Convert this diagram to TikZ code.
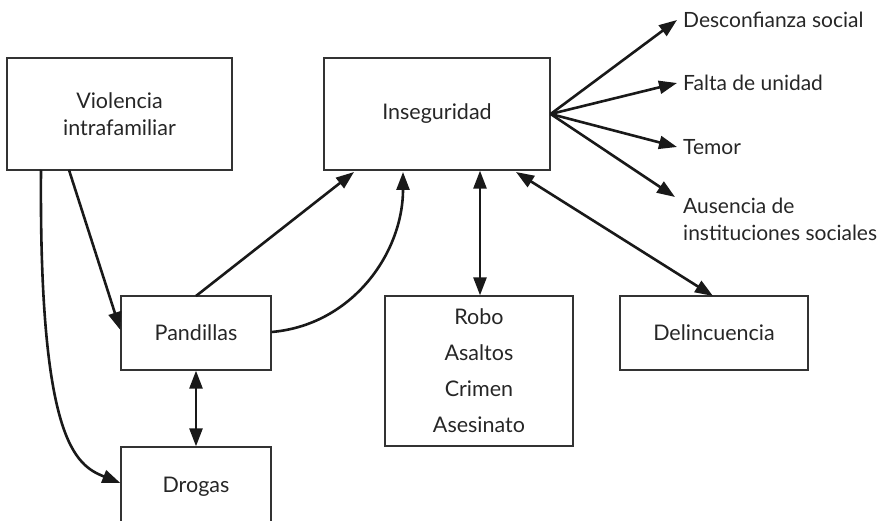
\documentclass[tikz,border=0pt]{standalone}
\usepackage{fontspec}
\setmainfont{Lato}
\usetikzlibrary{arrows.meta,positioning}
\tikzset{font=\fontsize{21.5}{27}\selectfont}
\tikzstyle{caja}=[draw=black!80,line width=1.3pt,align=center,inner sep=0pt,text=black!85]
\tikzstyle{etiq}=[align=left,inner sep=0pt,text=black!85]
\tikzstyle{flecha}=[line width=2.6pt,black!90,-{Triangle[length=18pt,width=13pt]}]
\tikzstyle{doble}=[line width=2.6pt,black!90,{Triangle[length=18pt,width=13pt]}-{Triangle[length=18pt,width=13pt]}]

\begin{document}
\begin{tikzpicture}[x=1pt,y=-1pt]
\clip (0,0) rectangle (882,521);
\node[caja,minimum width=225pt,minimum height=112pt] (V) at (119.5,114) {Violencia\\intrafamiliar};
\node[caja,minimum width=226pt,minimum height=112pt] (I) at (437,114) {Inseguridad};
\node[caja,minimum width=150pt,minimum height=74pt] (P) at (196,333) {Pandillas};
\node[caja,minimum width=150pt,minimum height=80pt] (D) at (196,487) {Drogas};
\node[caja,minimum width=188pt,minimum height=150pt,font=\fontsize{21.5}{36}\selectfont] (R) at (479,371) {Robo\\Asaltos\\Crimen\\Asesinato};
\node[caja,minimum width=188pt,minimum height=74pt] (L) at (714,333) {Delincuencia};
\node[etiq,anchor=west,font=\fontsize{21}{27}\selectfont] (e1) at (683,20) {Desconfianza social};
\node[etiq,anchor=west,font=\fontsize{21}{27}\selectfont] (e2) at (683,83) {Falta de unidad};
\node[etiq,anchor=west,font=\fontsize{21}{27}\selectfont] (e3) at (683,147) {Temor};
\node[etiq,anchor=north west,font=\fontsize{21}{27}\selectfont] (e4) at (683,198) {Ausencia de\\instituciones sociales};
\coordinate (v1) at (41,170);
\coordinate (v2) at (69,170);
\coordinate (p1) at (196,296);
\path[flecha]
(v2) edge (P.west |- 0,330)
(p1) edge (354,172)
(P.east |- 0,332) edge[out=5,in=-90] (403,172)
(I.east) edge ([xshift=-6pt]e1.west)
(I.east) edge ([xshift=-6pt]e2.west)
(I.east) edge ([xshift=-6pt]e3.west)
(I.east) edge ([xshift=-8pt,yshift=1pt]e4.north west);
\draw[flecha] (v1) .. controls (39,440) and (75,465) .. (D.west |- 0,483);
\path[doble]
(P) edge (D)
(I.south -| 480,0) edge (R.north -| 480,0)
(516,172) edge (713,296);
\end{tikzpicture}
\end{document}
